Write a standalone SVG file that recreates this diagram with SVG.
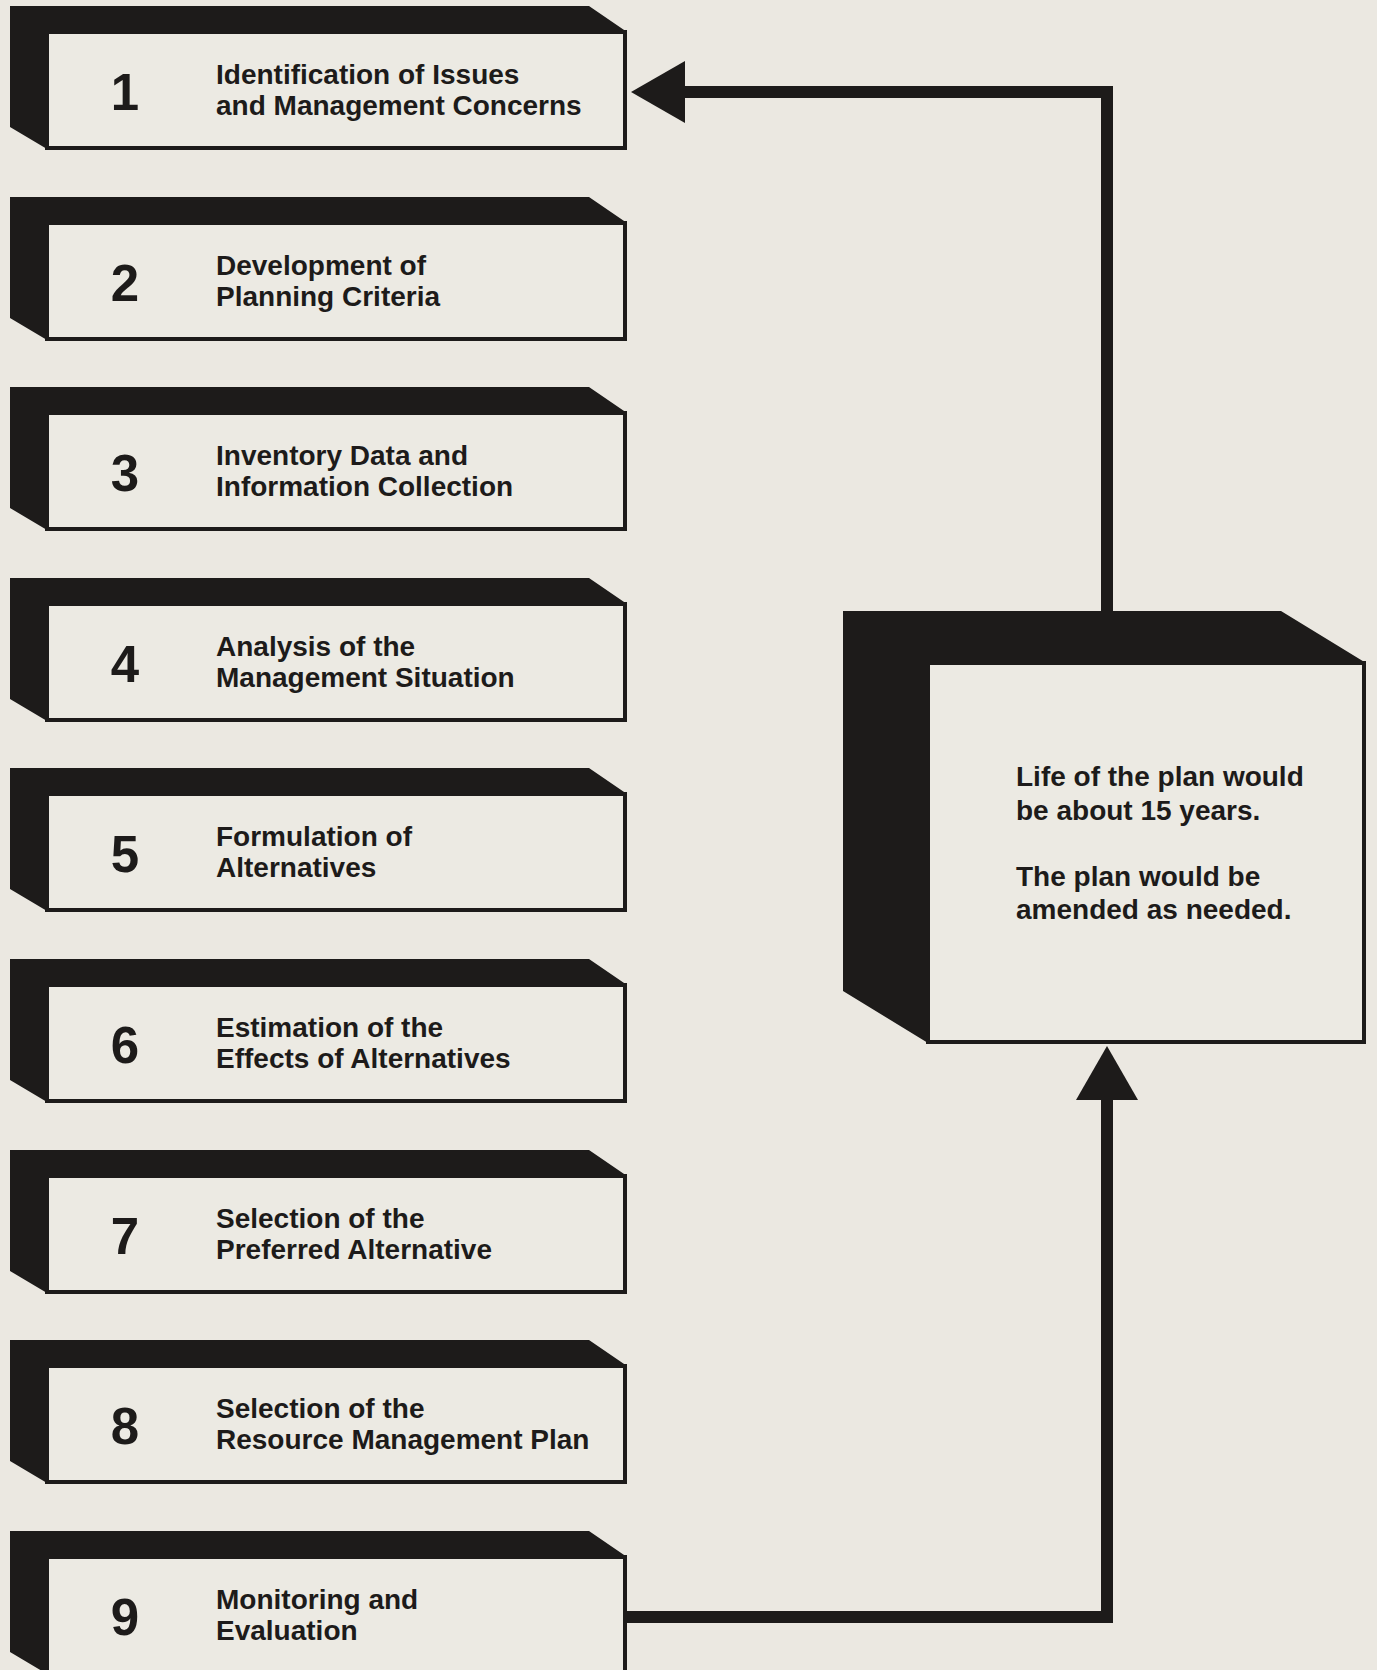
<svg xmlns="http://www.w3.org/2000/svg" width="1377" height="1670" viewBox="0 0 1377 1670">
<defs>
<style>
.bg{fill:#ebe8e1}
.side{fill:#1d1b1a}
.face{fill:#eceae3;stroke:#1d1b1a;stroke-width:4}
.num{font-family:"Liberation Sans",Arial,sans-serif;font-weight:bold;font-size:51px;fill:#1d1b1a;text-anchor:middle}
.lbl{font-family:"Liberation Sans",Arial,sans-serif;font-weight:bold;font-size:28px;fill:#1d1b1a}
.conn{fill:none;stroke:#1d1b1a;stroke-width:12;stroke-linejoin:miter;stroke-linecap:butt}
</style>
<marker id="arrow" markerUnits="userSpaceOnUse" viewBox="0 0 54 62" refX="1" refY="31" markerWidth="54" markerHeight="62" orient="auto">
<path d="M0,0 L54,31 L0,62 Z" fill="#1d1b1a"/>
</marker>
</defs>
<rect class="bg" x="0" y="0" width="1377" height="1670"/>

<g id="connectors">
<path class="conn" d="M1107,611 V92 H684" marker-end="url(#arrow)"/>
<path class="conn" d="M627,1617 H1107 V1099" marker-end="url(#arrow)"/>
</g>

<g id="step1">
<polygon class="side" points="10,6 589,6 627,32 47,32 47,149 10,127"/>
<rect class="face" x="47" y="32" width="578" height="116"/>
<text class="num" x="125" y="110">1</text>
<text class="lbl" x="216" y="84">Identification of Issues</text>
<text class="lbl" x="216" y="115">and Management Concerns</text>
</g>

<g id="step2">
<polygon class="side" points="10,197 589,197 627,223 47,223 47,340 10,318"/>
<rect class="face" x="47" y="223" width="578" height="116"/>
<text class="num" x="125" y="301">2</text>
<text class="lbl" x="216" y="275">Development of</text>
<text class="lbl" x="216" y="306">Planning Criteria</text>
</g>

<g id="step3">
<polygon class="side" points="10,387 589,387 627,413 47,413 47,530 10,508"/>
<rect class="face" x="47" y="413" width="578" height="116"/>
<text class="num" x="125" y="491">3</text>
<text class="lbl" x="216" y="465">Inventory Data and</text>
<text class="lbl" x="216" y="496">Information Collection</text>
</g>

<g id="step4">
<polygon class="side" points="10,578 589,578 627,604 47,604 47,721 10,699"/>
<rect class="face" x="47" y="604" width="578" height="116"/>
<text class="num" x="125" y="682">4</text>
<text class="lbl" x="216" y="656">Analysis of the</text>
<text class="lbl" x="216" y="687">Management Situation</text>
</g>

<g id="step5">
<polygon class="side" points="10,768 589,768 627,794 47,794 47,911 10,889"/>
<rect class="face" x="47" y="794" width="578" height="116"/>
<text class="num" x="125" y="872">5</text>
<text class="lbl" x="216" y="846">Formulation of</text>
<text class="lbl" x="216" y="877">Alternatives</text>
</g>

<g id="step6">
<polygon class="side" points="10,959 589,959 627,985 47,985 47,1102 10,1080"/>
<rect class="face" x="47" y="985" width="578" height="116"/>
<text class="num" x="125" y="1063">6</text>
<text class="lbl" x="216" y="1037">Estimation of the</text>
<text class="lbl" x="216" y="1068">Effects of Alternatives</text>
</g>

<g id="step7">
<polygon class="side" points="10,1150 589,1150 627,1176 47,1176 47,1293 10,1271"/>
<rect class="face" x="47" y="1176" width="578" height="116"/>
<text class="num" x="125" y="1254">7</text>
<text class="lbl" x="216" y="1228">Selection of the</text>
<text class="lbl" x="216" y="1259">Preferred Alternative</text>
</g>

<g id="step8">
<polygon class="side" points="10,1340 589,1340 627,1366 47,1366 47,1483 10,1461"/>
<rect class="face" x="47" y="1366" width="578" height="116"/>
<text class="num" x="125" y="1444">8</text>
<text class="lbl" x="216" y="1418">Selection of the</text>
<text class="lbl" x="216" y="1449">Resource Management Plan</text>
</g>

<g id="step9">
<polygon class="side" points="10,1531 589,1531 627,1557 47,1557 47,1674 10,1652"/>
<rect class="face" x="47" y="1557" width="578" height="116"/>
<text class="num" x="125" y="1635">9</text>
<text class="lbl" x="216" y="1609">Monitoring and</text>
<text class="lbl" x="216" y="1640">Evaluation</text>
</g>

<g id="plan-life">
<polygon class="side" points="843,611 1281,611 1366,663 928,663 928,1043 843,991"/>
<rect class="face" x="928" y="663" width="436" height="379"/>
<text class="lbl" x="1016" y="786">Life of the plan would</text>
<text class="lbl" x="1016" y="820">be about 15 years.</text>
<text class="lbl" x="1016" y="886">The plan would be</text>
<text class="lbl" x="1016" y="919">amended as needed.</text>
</g>
</svg>
